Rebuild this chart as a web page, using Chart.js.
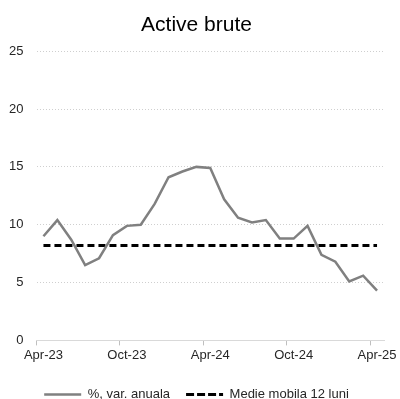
<!DOCTYPE html>
<html>
<head>
<meta charset="utf-8">
<script src="https://cdn.jsdelivr.net/npm/chart.js@4/dist/chart.umd.min.js"></script>
<style>
  body { margin: 0; background: #fff; }
  #wrap { width: 400px; height: 399px; }
</style>
</head>
<body>
<div id="wrap"><canvas id="chart"></canvas></div>
<script>
// Active brute - monthly values, Apr-23 .. Apr-25
const months = [
  "Apr-23", "May-23", "Jun-23", "Jul-23", "Aug-23", "Sep-23", "Oct-23",
  "Nov-23", "Dec-23", "Jan-24", "Feb-24", "Mar-24", "Apr-24", "May-24",
  "Jun-24", "Jul-24", "Aug-24", "Sep-24", "Oct-24", "Nov-24", "Dec-24",
  "Jan-25", "Feb-25", "Mar-25", "Apr-25"
];
const annualChange = [
  9.0, 10.4, 8.7, 6.5, 7.1, 9.1, 9.9, 10.0, 11.8, 14.1, 14.6, 15.0, 14.9,
  12.2, 10.6, 10.2, 10.4, 8.8, 8.8, 9.9, 7.4, 6.8, 5.1, 5.6, 4.3
];
const movingAvg = months.map(() => 8.2);
const yTicks = [0, 5, 10, 15, 20, 25];

Chart.defaults.font.family = "'Liberation Sans', Arial, sans-serif";
Chart.defaults.color = "#262626";

const ctx = document.getElementById("chart").getContext("2d");
new Chart(ctx, {
  type: "line",
  data: {
    labels: months,
    datasets: [
      {
        label: "%, var. anuala",
        data: annualChange,
        borderColor: "#808080",
        backgroundColor: "#808080",
        borderWidth: 2.5,
        pointRadius: 0,
        tension: 0,
      },
      {
        label: "Medie mobila 12 luni",
        data: movingAvg,
        borderColor: "#000000",
        backgroundColor: "#000000",
        borderWidth: 3,
        borderDash: [7, 4],
        pointRadius: 0,
      },
    ],
  },
  options: {
    responsive: true,
    maintainAspectRatio: false,
    animation: false,
    layout: {
      padding: { left: 9, right: 16, top: 0, bottom: -12 },
    },
    plugins: {
      title: {
        display: true,
        text: "Active brute",
        color: "#000",
        font: { size: 21, weight: "normal" },
        padding: { top: 13, bottom: 13 },
      },
      legend: {
        position: "bottom",
        labels: {
          // flat boxes so the legend shows the line and its dash
          boxWidth: 37,
          boxHeight: 0,
          font: { size: 13 },
          padding: 16,
        },
      },
      tooltip: { enabled: false },
    },
    scales: {
      x: {
        offset: true,
        grid: {
          offset: true,
          drawOnChartArea: false,
          tickLength: 5,
          color: (c) => (c.index % 6 === 0 ? "#bfbfbf" : "rgba(0,0,0,0)"),
        },
        border: { color: "#d9d9d9", width: 1 },
        ticks: {
          autoSkip: false,
          maxRotation: 0,
          padding: 2,
          font: { size: 13 },
          callback: function (val, i) {
            return i % 6 === 0 ? months[i] : "";
          },
        },
        afterFit: (axis) => {
          axis.paddingLeft = 0;
          axis.paddingRight = 0;
          axis.height += 7;
        },
      },
      y: {
        min: 0,
        max: 25,
        afterBuildTicks: (axis) => {
          axis.ticks = yTicks.map((v) => ({ value: v }));
        },
        border: { display: false, dash: [1, 2] },
        grid: {
          color: (c) => (c.tick && c.tick.value === 0 ? "rgba(0,0,0,0)" : "#cfcfcf"),
          drawTicks: false,
        },
        ticks: {
          padding: 13,
          font: { size: 13 },
        },
        afterFit: (axis) => {
          axis.width = 27.5;
        },
      },
    },
  },
});
</script>
</body>
</html>
